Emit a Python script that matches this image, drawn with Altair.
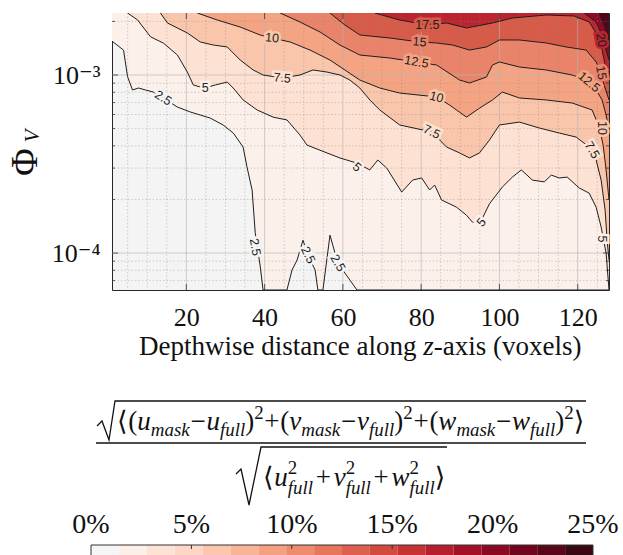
import altair as alt
import pandas as pd

# ---------------- data ----------------
X_DOMAIN = [1, 128]
PHI_DOMAIN = [6.2e-5, 2.23e-3]

levels = [2.5, 5, 7.5, 10, 12.5, 15, 17.5, 20, 22.5]
band_colors = ['#fcf0ea', '#fde1d2', '#f9c6ab', '#f4a483', '#e9846a',
               '#d75b49', '#bb2530', '#8c0a25', '#4e0818']
below_color = '#f4f4f4'

# contour lines (x in voxels, Phi_V)
contour_2_5 = [(1, 1.55e-3), (3.95, 1.38e-3), (4.97, 9.8e-4), (6.24, 8.24e-4), (7.77, 8.45e-4),
               (9.55, 8.24e-4), (11.6, 8.02e-4), (14.1, 7.43e-4), (17.7, 6.61e-4), (21.0, 6.2e-4),
               (26.1, 5.73e-4), (29.4, 5.24e-4), (32.0, 4.72e-4), (34.5, 3.94e-4), (35.5, 3.04e-4),
               (36.8, 2.26e-4), (37.6, 1.30e-4), (38.9, 8.34e-5), (39.6, 6.2e-5), (45.7, 6.2e-5),
               (47.0, 8.03e-5), (48.3, 9.14e-5), (49.8, 1.18e-4), (51.1, 9.74e-5), (52.9, 8.03e-5),
               (53.6, 6.2e-5), (54.9, 6.2e-5), (56.7, 1.26e-4), (58.7, 8.79e-5), (61.8, 7.05e-5),
               (63.6, 6.2e-5), (128, 6.2e-5)]
contour_5 = [(4.97, 2.23e-3), (7.52, 2.04e-3), (10.83, 1.64e-3), (14.14, 1.51e-3), (17.71, 1.295e-3),
             (20.25, 1.039e-3), (21.78, 8.79e-4), (23.57, 8.56e-4), (24.84, 8.45e-4), (27.39, 8.79e-4),
             (30.45, 9.13e-4), (31.97, 8.45e-4), (34.52, 7.24e-4), (38.09, 6.36e-4), (42.17, 5.8e-4),
             (45.73, 5.59e-4), (49.04, 4.6e-4), (50.83, 4.04e-4), (55.92, 3.65e-4), (59.24, 3.42e-4),
             (63.57, 3.2e-4), (66.88, 2.93e-4), (68.92, 3.33e-4), (71.21, 3.0e-4), (75.03, 2.2e-4),
             (77.83, 2.57e-4), (80.13, 2.64e-4), (82.17, 2.26e-4), (83.44, 2.41e-4), (85.22, 1.985e-4),
             (89.04, 1.81e-4), (91.59, 1.63e-4), (93.12, 1.49e-4), (95.41, 1.53e-4), (97.45, 1.89e-4),
             (100.76, 2.35e-4), (103.31, 2.67e-4), (105.61, 2.93e-4), (108.41, 2.57e-4), (111.46, 2.51e-4),
             (113.25, 2.74e-4), (115.29, 2.64e-4), (117.32, 2.67e-4), (120.38, 2.32e-4), (122.93, 2.17e-4),
             (124.71, 1.81e-4), (125.99, 1.4e-4), (127.26, 1.0e-4), (128, 6.2e-5)]
contour_7_5 = [(13.38, 2.23e-3), (15.16, 1.96e-3), (20.25, 1.722e-3), (23.57, 1.533e-3), (26.88, 1.474e-3),
               (30.45, 1.437e-3), (33.76, 1.214e-3), (37.07, 1.067e-3), (39.62, 1.0e-3), (44.46, 9.62e-4),
               (49.04, 1.0e-3), (52.36, 1.067e-3), (55.92, 1.039e-3), (59.24, 1.0e-3), (61.78, 9.37e-4),
               (64.33, 8.45e-4), (66.88, 7.24e-4), (69.43, 6.36e-4), (74.52, 5.24e-4), (82.68, 4.79e-4),
               (86.5, 3.94e-4), (89.81, 3.65e-4), (92.36, 3.42e-4), (94.9, 3.65e-4), (97.45, 4.31e-4),
               (100.0, 5.24e-4), (105.1, 5.44e-4), (110.19, 5.04e-4), (115.29, 4.72e-4), (119.62, 4.48e-4),
               (122.93, 3.94e-4), (124.71, 3.33e-4), (125.99, 2.57e-4), (127.01, 1.74e-4), (127.52, 1.18e-4),
               (128, 9.14e-5)]
contour_10 = [(22.8, 2.23e-3), (27.9, 2.037e-3), (33.76, 1.86e-3), (38.85, 1.678e-3), (41.91, 1.614e-3),
              (46.5, 1.533e-3), (51.59, 1.381e-3), (56.69, 1.214e-3), (60.51, 1.067e-3), (64.33, 9.37e-4),
              (69.43, 8.45e-4), (74.52, 7.92e-4), (83.95, 7.53e-4), (87.26, 6.78e-4), (91.59, 5.8e-4),
              (94.9, 6.51e-4), (98.22, 7.24e-4), (100.76, 8.02e-4), (105.1, 7.43e-4), (111.97, 7.24e-4),
              (118.6, 6.96e-4), (123.69, 6.36e-4), (125.48, 5.11e-4), (126.5, 4.04e-4), (127.26, 2.93e-4),
              (128, 1.985e-4)]
contour_12_5 = [(43.95, 2.23e-3), (49.04, 1.985e-3), (54.14, 1.745e-3), (59.24, 1.474e-3), (64.33, 1.295e-3),
                (71.97, 1.246e-3), (78.85, 1.183e-3), (83.95, 1.138e-3), (89.81, 9.37e-4), (92.36, 9.02e-4),
                (96.69, 9.74e-4), (98.22, 1.138e-3), (100.0, 1.183e-3), (105.1, 1.109e-3), (111.97, 1.067e-3),
                (118.6, 1.0e-3), (122.17, 9.37e-4), (124.71, 8.24e-4), (126.24, 7.24e-4), (127.26, 5.96e-4),
                (128, 4.91e-4)]
contour_15 = [(56.69, 2.23e-3), (60.51, 1.91e-3), (64.33, 1.678e-3), (71.97, 1.614e-3), (79.62, 1.533e-3),
              (83.95, 1.513e-3), (88.03, 1.474e-3), (92.36, 1.381e-3), (96.69, 1.437e-3), (100.0, 1.573e-3),
              (105.1, 1.573e-3), (111.97, 1.513e-3), (117.07, 1.437e-3), (122.17, 1.381e-3), (124.71, 1.183e-3),
              (125.99, 1.03e-3), (126.75, 8.79e-4), (128, 7.24e-4)]
contour_17_5 = [(68.15, 2.23e-3), (74.52, 2.037e-3), (81.66, 1.91e-3), (86.5, 1.96e-3), (91.59, 1.837e-3),
                (98.22, 1.96e-3), (103.31, 2.09e-3), (111.97, 2.173e-3), (119.11, 2.145e-3), (122.93, 1.985e-3),
                (124.97, 1.678e-3), (126.24, 1.381e-3), (127.01, 1.138e-3), (128, 9.37e-4)]
contour_20 = [(121.66, 2.23e-3), (124.71, 1.985e-3), (126.24, 1.678e-3), (127.26, 1.381e-3), (128, 1.214e-3)]
contour_22_5 = [(125.48, 2.23e-3), (126.75, 1.91e-3), (128, 1.573e-3)]

contours = [contour_2_5, contour_5, contour_7_5, contour_10, contour_12_5,
            contour_15, contour_17_5, contour_20, contour_22_5]

# inline contour labels: text, x, Phi_V, rotation
label_text = ['2.5', '2.5', '2.5', '2.5', '5', '5', '5', '5', '7.5', '7.5', '7.5',
              '10', '10', '10', '12.5', '12.5', '15', '15', '17.5', '20']
label_x = [14.1, 37.6, 51.1, 58.7, 24.8, 63.6, 95.4, 126.3, 44.5, 82.7, 123.7,
           41.9, 83.9, 126.2, 78.8, 122.9, 79.6, 126.0, 81.6, 126.0]
label_phi = [7.43e-4, 1.08e-4, 9.74e-5, 8.79e-5, 8.45e-4, 3.04e-4, 1.49e-4, 1.2e-4, 9.62e-4, 4.79e-4, 3.79e-4,
             1.614e-3, 7.5e-4, 5.04e-4, 1.183e-3, 9.13e-4, 1.533e-3, 1.03e-3, 1.91e-3, 1.57e-3]
label_angle = [32, 80, 65, 60, 0, 40, 310, 90, 5, 25, 60, 5, 15, 90, 10, 40, 5, 80, 0, 80]

# axes
x_ticks = [20, 40, 60, 80, 100, 120]
x_minor = [5, 10, 15, 25, 30, 35, 45, 50, 55, 65, 70, 75, 85, 90, 95, 105, 110, 115, 125]
y_ticks = [1e-4, 1e-3]
y_minor = [7e-5, 8e-5, 9e-5, 2e-4, 3e-4, 4e-4, 5e-4, 6e-4, 7e-4, 8e-4, 9e-4, 2e-3]

# colour bar
cbar_colors = ['#f5f5f5', '#fcefe8', '#fce3d6', '#fdd7c4', '#fcc7ae', '#f9b498', '#f5a083', '#ef8c6d',
               '#e7775a', '#dd614e', '#d24a40', '#c53335', '#b61f2e', '#a21027', '#8b0923', '#72041d',
               '#580618', '#3a0812']
cbar_ticks = [0, 5, 10, 15, 20, 25]
cbar_labels = ['0%', '5%', '10%', '15%', '20%', '25%']

# ---------------- layout constants ----------------
W, H = 497, 277
OX, OY = 112, 13
SERIF = "'Liberation Serif', 'Times New Roman', Times, 'DejaVu Serif', serif"
SANS = "'Liberation Sans', Arial, Helvetica, sans-serif"

xs = alt.Scale(domain=X_DOMAIN, nice=False, zero=False)
ys = alt.Scale(type='log', domain=PHI_DOMAIN, nice=False)
x_axis = alt.Axis(values=x_ticks, labelFont=SERIF, labelFontSize=26, labelColor='#111111',
                  labelPadding=14, ticks=False, tickSize=0, domain=False, grid=False, title=None,
                  labelFlush=False)
y_axis = alt.Axis(values=y_ticks, labelExpr="datum.value < 0.0005 ? '10\u207b\u2074' : '10\u207b\u00b3'",
                  labelFont=SERIF, labelFontSize=26, labelColor='#111111', labelPadding=12,
                  ticks=False, tickSize=0, domain=False, grid=False, title=None)


def X(f):
    return alt.X(f, type='quantitative', scale=xs, axis=x_axis, title=None)


def Y(f):
    return alt.Y(f, type='quantitative', scale=ys, axis=y_axis, title=None, stack=None)


main_layers = []
# filled bands: each level paints from its contour up to the top
for lev, col, pts in zip(levels, band_colors, contours):
    df = pd.DataFrame(pts, columns=['x', 'phi'])
    main_layers.append(
        alt.Chart(df).mark_area(color=col, opacity=1, clip=True, interpolate='linear')
        .encode(x=X('x'), y=Y('phi'), y2=alt.value(0))
    )

# grid
main_layers.append(alt.Chart(pd.DataFrame({'gx': x_minor})).mark_rule(
    color='#8c8c8c', strokeWidth=0.7, strokeDash=[1.5, 2], opacity=0.55).encode(x=X('gx')))
main_layers.append(alt.Chart(pd.DataFrame({'gy': y_minor})).mark_rule(
    color='#8c8c8c', strokeWidth=0.7, strokeDash=[1.5, 2], opacity=0.55).encode(y=Y('gy')))
main_layers.append(alt.Chart(pd.DataFrame({'gx': x_ticks})).mark_rule(
    color='#b4b4b4', strokeWidth=0.8, opacity=0.8).encode(x=X('gx')))
main_layers.append(alt.Chart(pd.DataFrame({'gy': y_ticks})).mark_rule(
    color='#b4b4b4', strokeWidth=0.8, opacity=0.8).encode(y=Y('gy')))

# inner ticks
tick_col = '#333333'
main_layers.append(alt.Chart(pd.DataFrame({'gy': y_minor})).mark_rule(color=tick_col, strokeWidth=0.8)
                   .encode(y=Y('gy'), x=alt.value(0), x2=alt.value(3)))
main_layers.append(alt.Chart(pd.DataFrame({'gy': y_ticks})).mark_rule(color=tick_col, strokeWidth=0.8)
                   .encode(y=Y('gy'), x=alt.value(0), x2=alt.value(6)))
main_layers.append(alt.Chart(pd.DataFrame({'gy': y_minor})).mark_rule(color=tick_col, strokeWidth=0.8)
                   .encode(y=Y('gy'), x=alt.value(W), x2=alt.value(W - 3)))
main_layers.append(alt.Chart(pd.DataFrame({'gy': y_ticks})).mark_rule(color=tick_col, strokeWidth=0.8)
                   .encode(y=Y('gy'), x=alt.value(W), x2=alt.value(W - 6)))
main_layers.append(alt.Chart(pd.DataFrame({'gx': x_ticks})).mark_rule(color=tick_col, strokeWidth=0.8)
                   .encode(x=X('gx'), y=alt.value(H), y2=alt.value(H - 6)))
main_layers.append(alt.Chart(pd.DataFrame({'gx': x_ticks})).mark_rule(color=tick_col, strokeWidth=0.8)
                   .encode(x=X('gx'), y=alt.value(0), y2=alt.value(6)))

# contour lines
rows = []
for lev, pts in zip(levels, contours):
    for i, (x, p) in enumerate(pts):
        rows.append({'level': lev, 'i': i, 'x': x, 'phi': p})
line_df = pd.DataFrame(rows)
main_layers.append(
    alt.Chart(line_df).mark_line(color='#1e1e1e', strokeWidth=1, clip=True)
    .encode(x=X('x'), y=Y('phi'), detail='level:N', order='i:Q')
)

# contour labels (a halo in the band colour breaks the line under each label)
level_names = ['2.5', '5', '7.5', '10', '12.5', '15', '17.5', '20', '22.5']
halo_of = {name: band_colors[max(0, i - 1)] if i > 0 else below_color for i, name in enumerate(level_names)}
lab_df = pd.DataFrame({'t': label_text, 'x': label_x, 'phi': label_phi, 'ang': label_angle,
                       'halo': [halo_of[t] for t in label_text]})
main_layers.append(
    alt.Chart(lab_df).mark_text(font=SANS, fontSize=12.5, strokeWidth=5, align='center', baseline='middle')
    .encode(x=X('x'), y=Y('phi'), text='t:N', angle=alt.Angle('ang:Q', scale=None),
            stroke=alt.Stroke('halo:N', scale=None), color=alt.Color('halo:N', scale=None))
)
main_layers.append(
    alt.Chart(lab_df).mark_text(font=SANS, fontSize=12.5, color='#1e1e1e',
                                align='center', baseline='middle')
    .encode(x=X('x'), y=Y('phi'), text='t:N', angle=alt.Angle('ang:Q', scale=None))
)
main = alt.layer(*main_layers)

# ---------------- annotation layer (pixel coordinates) ----------------
PXs = alt.Scale(domain=[-OX, 623 - OX], range=[-OX, 623 - OX], nice=False, zero=False)
PYs = alt.Scale(domain=[-OY, 555 - OY], range=[-OY, 555 - OY], nice=False, zero=False)


def AX(f):
    return alt.X(f, type='quantitative', scale=PXs, axis=None)


def AY(f):
    return alt.Y(f, type='quantitative', scale=PYs, axis=None)


TW = {'(': 0.333, ')': 0.333, '+': 0.564, '\u2212': 0.564, '2': 0.5, '\u27e8': 0.42, '\u27e9': 0.42}
TI = {'u': 0.5, 'v': 0.444, 'w': 0.667, 'm': 0.722, 'a': 0.5, 's': 0.389, 'k': 0.444,
      'f': 0.278, 'l': 0.278}


def layout_expr(tokens, x_start, x_end, base, F):
    S = 0.7 * F

    def w(t, k):
        if k in ('rm', 'op'):
            return sum(TW[c] for c in t) * F
        if k == 'it':
            return sum(TI[c] for c in t) * F
        if k == 'sub':
            return sum(TI[c] for c in t) * S
        if k == 'sup':
            return sum(TW[c] for c in t) * S
        return max(sum(TI[c] for c in t) * S, TW['2'] * S)

    natural = sum(w(t, k) for t, k in tokens)
    n_ops = sum(1 for t, k in tokens if k == 'op')
    pad = max(0.0, (x_end - x_start - natural) / (2 * n_ops))
    reg, ita = [], []
    x = x_start
    for t, k in tokens:
        if k == 'op':
            x += pad
            reg.append((x, base, t, F))
            x += w(t, k) + pad
        elif k == 'rm':
            reg.append((x, base, t, F))
            x += w(t, k)
        elif k == 'it':
            ita.append((x, base, t, F))
            x += w(t, k)
        elif k == 'sub':
            ita.append((x, base + 0.22 * F, t, S))
            x += w(t, k)
        elif k == 'sup':
            reg.append((x, base - 0.42 * F, t, S))
            x += w(t, k)
        else:
            reg.append((x, base - 0.45 * F, '2', S))
            ita.append((x, base + 0.28 * F, t, S))
            x += w(t, k)
    return reg, ita


MINUS = '\u2212'
num_tokens = [('\u27e8', 'rm')]
for i, letter in enumerate(['u', 'v', 'w']):
    if i > 0:
        num_tokens.append(('+', 'op'))
    num_tokens += [('(', 'rm'), (letter, 'it'), ('mask', 'sub'), (MINUS, 'op'),
                   (letter, 'it'), ('full', 'sub'), (')', 'rm'), ('2', 'sup')]
num_tokens.append(('\u27e9', 'rm'))
den_tokens = [('\u27e8', 'rm'), ('u', 'it'), ('full', 'subsup'), ('+', 'op'), ('v', 'it'),
              ('full', 'subsup'), ('+', 'op'), ('w', 'it'), ('full', 'subsup'), ('\u27e9', 'rm')]

n_reg, n_ita = layout_expr(num_tokens, 117, 585, 430, 27)
d_reg, d_ita = layout_expr(den_tokens, 263, 446, 486, 27)

# x-axis title pieces (abs coords)
t_reg = [(139, 355, 'Depthwise distance along', 27), (433.7, 355, '-axis (voxels)', 27)]
t_ita = [(423.2, 355, 'z', 27)]


def to_df(items):
    return pd.DataFrame([{'px': x - OX, 'py': y - OY, 't': t, 'fs': s} for x, y, t, s in items])


reg_df = to_df(n_reg + d_reg + t_reg)
ita_df = to_df(n_ita + d_ita + t_ita)

reg_text = alt.Chart(reg_df).mark_text(font=SERIF, align='left', baseline='alphabetic', color='#111111').encode(
    x=AX('px'), y=AY('py'), text='t:N', size=alt.Size('fs:Q', scale=None))
ita_text = alt.Chart(ita_df).mark_text(font=SERIF, fontStyle='italic', align='left', baseline='alphabetic',
                                       color='#111111').encode(
    x=AX('px'), y=AY('py'), text='t:N', size=alt.Size('fs:Q', scale=None))

# radicals and fraction bar (abs coords)
strokes = {
    'num_root': [(97, 426), (102, 421), (109, 440), (115, 401), (586, 401)],
    'bar': [(96, 443), (586, 443)],
    'den_root': [(236, 474), (241, 469), (249, 505), (261, 447), (447, 447)],
}
srows = []
for k, pts in strokes.items():
    for i, (x, y) in enumerate(pts):
        srows.append({'rid': k, 'i': i, 'px': x - OX, 'py': y - OY})
stroke_lines = alt.Chart(pd.DataFrame(srows)).mark_line(color='#111111', strokeWidth=1.3).encode(
    x=AX('px'), y=AY('py'), detail='rid:N', order='i:Q')

one = pd.DataFrame({'a': [0]})
phi_title = alt.Chart(one).mark_text(font=SERIF, fontSize=38, angle=270, align='center',
                                     baseline='alphabetic', color='#111111', text='\u03a6').encode(
    x=alt.value(37 - OX), y=alt.value(162 - OY))
v_title = alt.Chart(one).mark_text(font=SERIF, fontSize=21, fontStyle='italic', angle=270, align='center',
                                   baseline='alphabetic', color='#111111', text='V').encode(
    x=alt.value(39 - OX), y=alt.value(136 - OY))

annot = alt.layer(reg_text, ita_text, stroke_lines, phi_title, v_title)

# ---------------- colour bar ----------------
CB = alt.Scale(domain=[0, 25], range=[91 - OX, 593 - OX], nice=False, zero=False)
n = len(cbar_colors)
cb_df = pd.DataFrame({'lo': [25 * i / n for i in range(n)], 'hi': [25 * (i + 1) / n for i in range(n)],
                      'c': cbar_colors})
cb_rect = alt.Chart(cb_df).mark_rect().encode(
    x=alt.X('lo:Q', scale=CB, axis=None), x2='hi:Q',
    y=alt.value(545 - OY), y2=alt.value(560 - OY), color=alt.Color('c:N', scale=None))
cb_frame = alt.Chart(pd.DataFrame({'a': [0], 'b': [25]})).mark_rect(
    fillOpacity=0, stroke='#333333', strokeWidth=1).encode(
    x=alt.X('a:Q', scale=CB, axis=None), x2='b:Q', y=alt.value(545 - OY), y2=alt.value(560 - OY))
cb_tick = alt.Chart(pd.DataFrame({'v': cbar_ticks[1:-1]})).mark_rule(color='#333333', strokeWidth=1).encode(
    x=alt.X('v:Q', scale=CB, axis=None), y=alt.value(545 - OY), y2=alt.value(549 - OY))
cb_lab = alt.Chart(pd.DataFrame({'v': cbar_ticks, 't': cbar_labels})).mark_text(
    font=SERIF, fontSize=28, align='center', baseline='alphabetic', color='#111111').encode(
    x=alt.X('v:Q', scale=CB, axis=None), y=alt.value(533 - OY), text='t:N')
cbar = alt.layer(cb_rect, cb_frame, cb_tick, cb_lab)

chart = alt.layer(main, annot, cbar).resolve_scale(x='independent', y='independent').properties(
    width=W, height=H,
    padding={'left': OX, 'top': OY, 'right': 623 - OX - W, 'bottom': 555 - OY - H},
    autosize=alt.AutoSizeParams(type='none'),
).configure_view(stroke='#262626', strokeWidth=1, fill=below_color)

chart.save('out.html', embed_options={'renderer': 'svg', 'actions': False})
